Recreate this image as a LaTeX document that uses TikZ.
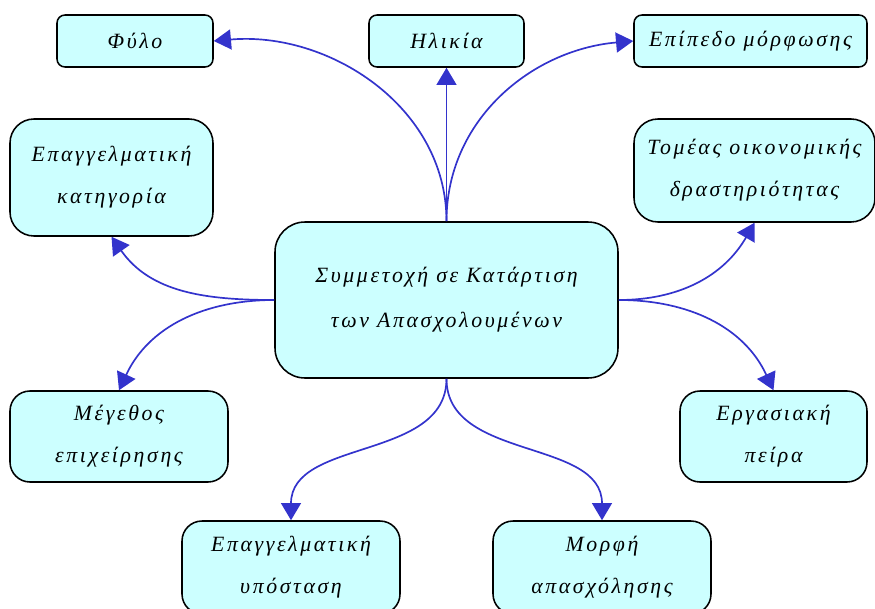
\documentclass[tikz,border=0pt]{standalone}
\usepackage{fontspec}
\usepackage{tikz}
\usetikzlibrary{arrows.meta,shapes,positioning}
\newfontfamily\grfont[LetterSpace=12]{Liberation Serif}
\definecolor{boxcol}{HTML}{CCFFFF}
\definecolor{arrcol}{HTML}{3333CC}

\begin{document}
\begin{tikzpicture}[
  box/.style={draw, line width=1.1pt, fill=boxcol, rounded corners=0.2cm, align=center,
    font=\grfont\itshape\fontsize{15.5}{30}\selectfont, inner sep=0pt},
  bigbox/.style={box, rounded corners=0.6cm},
  link/.style={-{Triangle[length=4.3mm, width=5mm]}, line width=1.2pt, color=arrcol}
]
  \useasboundingbox (0,0) rectangle (21.875,15.2);

  % centre
  \node[bigbox, rounded corners=0.75cm, minimum width=8.575cm, minimum height=3.9cm,
    font=\grfont\itshape\fontsize{15.5}{32}\selectfont] (kentro) at (11.1625,7.7)
    {Συμμετοχή σε Κατάρτιση\\των Απασχολουμένων};

  % top row
  \node[box, minimum width=3.9cm, minimum height=1.3cm] (fylo) at (3.375,14.175) {Φύλο};
  \node[box, minimum width=3.875cm, minimum height=1.3cm] (hlikia) at (11.1625,14.175) {Ηλικία};
  \node[box, minimum width=5.825cm, minimum height=1.3cm] (epipedo) at (18.7625,14.175) {Επίπεδο μόρφωσης};

  % second row
  \node[bigbox, minimum width=5.075cm, minimum height=2.925cm] (katigoria) at (2.7875,10.7625)
    {Επαγγελματική\\κατηγορία};
  \node[bigbox, minimum width=6.025cm, minimum height=2.575cm] (tomeas) at (18.8625,10.9375)
    {Τομέας οικονομικής\\δραστηριότητας};

  % third row
  \node[bigbox, rounded corners=0.5cm, minimum width=5.45cm, minimum height=2.275cm] (megethos) at (2.975,4.2875)
    {Μέγεθος\\επιχείρησης};
  \node[bigbox, rounded corners=0.5cm, minimum width=4.675cm, minimum height=2.275cm] (peira) at (19.3375,4.2875)
    {Εργασιακή\\πείρα};

  % bottom row
  \node[bigbox, rounded corners=0.5cm, minimum width=5.45cm, minimum height=2.325cm] (ypostasi) at (7.275,1.0125)
    {Επαγγελματική\\υπόσταση};
  \node[bigbox, rounded corners=0.5cm, minimum width=5.45cm, minimum height=2.325cm] (morfi) at (15.05,1.0125)
    {Μορφή\\απασχόλησης};

  % arrows
  \draw[link] (kentro.north) -- (hlikia.south);
  \draw[link] (kentro.north) to[out=90, in=5] (fylo.east);
  \draw[link] (kentro.north) to[out=90, in=185] (epipedo.west);
  \draw[link] (kentro.west) to[out=180, in=-55] (katigoria.south);
  \draw[link] (kentro.west) to[out=180, in=65] (megethos.north);
  \draw[link] (kentro.east) to[out=0, in=-120] (tomeas.south);
  \draw[link] (kentro.east) to[out=0, in=115] (peira.north);
  \draw[link] (kentro.south) to[out=-90, in=90] (ypostasi.north);
  \draw[link] (kentro.south) to[out=-90, in=90] (morfi.north);
\end{tikzpicture}
\end{document}
